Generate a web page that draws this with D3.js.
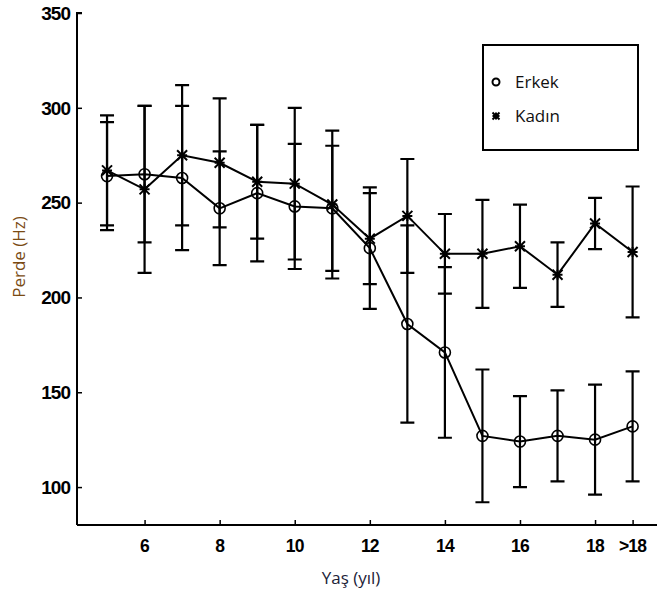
<!DOCTYPE html>
<html>
<head>
<meta charset="utf-8">
<script src="https://cdn.jsdelivr.net/npm/d3@7"></script>
<style>
  html, body { margin: 0; padding: 0; background: #fff; }
  svg { display: block; }
</style>
</head>
<body>
<svg id="chart" width="659" height="594"></svg>
<script>
// ---- data ----
const ages = [5, 6, 7, 8, 9, 10, 11, 12, 13, 14, 15, 16, 17, 18, 19];
const xTickValues = [6, 8, 10, 12, 14, 16, 18, 19];
const xTickLabels = ["6", "8", "10", "12", "14", "16", "18", ">18"];
const yTickValues = [100, 150, 200, 250, 300, 350];
const seriesNames = ["Erkek", "Kadın"];
const erkekMean = [264, 265, 263, 247, 255, 248, 247, 226, 186, 171, 127, 124, 127, 125, 132];
const erkekErr  = [28.5, 36, 38, 30, 36, 33, 33, 32, 52, 45, 35, 24, 24, 29, 29];
const kadinMean = [267, 257, 275, 271, 261, 260, 249, 231, 243, 223, 223, 227, 212, 239, 224];
const kadinErr  = [29, 44, 37, 34, 30, 40, 39, 24, 30, 21, 28.5, 22, 17, 13.5, 34.5];
const xLabel = "Yaş (yıl)";
const yLabel = "Perde (Hz)";

// ---- layout ----
const svg = d3.select("#chart");
const x = d3.scaleLinear().domain([4.2, 19.65]).range([77, 657]);
const y = d3.scaleLinear().domain([80, 350]).range([525, 13]);

const tickFont = "'Liberation Sans', Arial, sans-serif";
const textFont = "'Open Sans', 'Noto Sans', sans-serif";

// axes
const yAxis = d3.axisRight(y).tickValues(yTickValues).tickSize(5).tickFormat("");
const gy = svg.append("g").attr("transform", `translate(${x.range()[0]},0)`).call(yAxis);
gy.select(".domain").attr("d", `M5,${y(350)}H0V${y(80)}`).attr("stroke", "#000").attr("stroke-width", 2);
gy.selectAll(".tick line").attr("stroke", "#000").attr("stroke-width", 1.5);

const xAxis = d3.axisTop(x).tickValues(xTickValues).tickSize(5).tickFormat("");
const gx = svg.append("g").attr("transform", `translate(0,${y(80)})`).call(xAxis);
gx.select(".domain").attr("d", `M${x.range()[0]},0H${x.range()[1]}`).attr("stroke", "#000").attr("stroke-width", 2);
gx.selectAll(".tick line").attr("stroke", "#000").attr("stroke-width", 1.5);

// tick labels
svg.append("g").selectAll("text").data(yTickValues).join("text")
  .attr("x", 70).attr("y", d => y(d)).attr("dy", "0.36em")
  .attr("text-anchor", "end")
  .attr("font-family", tickFont).attr("font-weight", "bold").attr("font-size", 19)
  .attr("letter-spacing", -1)
  .text(d => d);

svg.append("g").selectAll("text").data(xTickValues).join("text")
  .attr("x", d => x(d)).attr("y", 552)
  .attr("text-anchor", "middle")
  .attr("font-family", tickFont).attr("font-weight", "bold").attr("font-size", 17.5)
  .attr("letter-spacing", -0.8)
  .text((d, i) => xTickLabels[i]);

// axis titles
svg.append("text").attr("x", 351).attr("y", 584).attr("text-anchor", "middle")
  .attr("font-family", textFont).attr("font-size", 17).attr("fill", "#1c2238").text(xLabel);
svg.append("text").attr("transform", "translate(25,257) rotate(-90)").attr("text-anchor", "middle")
  .attr("font-family", textFont).attr("font-size", 17).attr("fill", "#7a4a12").text(yLabel);

// error bars
const capW = 7;
function errorBars(means, errs) {
  const g = svg.append("g").attr("stroke", "#000").attr("stroke-width", 2.2).attr("fill", "none");
  ages.forEach((a, i) => {
    const cx = x(a), top = y(means[i] + errs[i]), bot = y(means[i] - errs[i]);
    g.append("path").attr("d",
      `M${cx},${top}V${bot}M${cx - capW},${top}H${cx + capW}M${cx - capW},${bot}H${cx + capW}`);
  });
}
errorBars(kadinMean, kadinErr);
errorBars(erkekMean, erkekErr);

// lines
const line = d3.line().x((d, i) => x(ages[i])).y(d => y(d));
svg.append("path").datum(kadinMean).attr("d", line).attr("fill", "none").attr("stroke", "#000").attr("stroke-width", 2);
svg.append("path").datum(erkekMean).attr("d", line).attr("fill", "none").attr("stroke", "#000").attr("stroke-width", 2);

// markers
function asteriskPath(cx, cy, s) {
  return `M${cx - s},${cy - s}L${cx + s},${cy + s}M${cx - s},${cy + s}L${cx + s},${cy - s}` +
         `M${cx - s},${cy}H${cx + s}M${cx},${cy - s}V${cy + s}`;
}
svg.append("g").selectAll("path").data(kadinMean).join("path")
  .attr("d", (d, i) => asteriskPath(x(ages[i]), y(d), 5))
  .attr("stroke", "#000").attr("stroke-width", 2).attr("fill", "none");
svg.append("g").selectAll("circle").data(erkekMean).join("circle")
  .attr("cx", (d, i) => x(ages[i])).attr("cy", d => y(d)).attr("r", 5.5)
  .attr("stroke", "#000").attr("stroke-width", 1.6).attr("fill", "none");

// legend
const lg = svg.append("g");
lg.append("rect").attr("x", 483).attr("y", 45).attr("width", 155).attr("height", 105)
  .attr("fill", "#fff").attr("stroke", "#000").attr("stroke-width", 2);
lg.append("circle").attr("cx", 496).attr("cy", 82).attr("r", 3.5)
  .attr("fill", "none").attr("stroke", "#000").attr("stroke-width", 2);
lg.append("path").attr("d", asteriskPath(496, 116, 3.5)).attr("stroke", "#000").attr("stroke-width", 2);
lg.selectAll("text.leg").data(seriesNames).join("text").attr("class", "leg")
  .attr("x", 515).attr("y", (d, i) => 82 + i * 34).attr("dy", "0.36em")
  .attr("font-family", textFont).attr("font-size", 17).attr("fill", "#111")
  .text(d => d);
</script>
</body>
</html>
